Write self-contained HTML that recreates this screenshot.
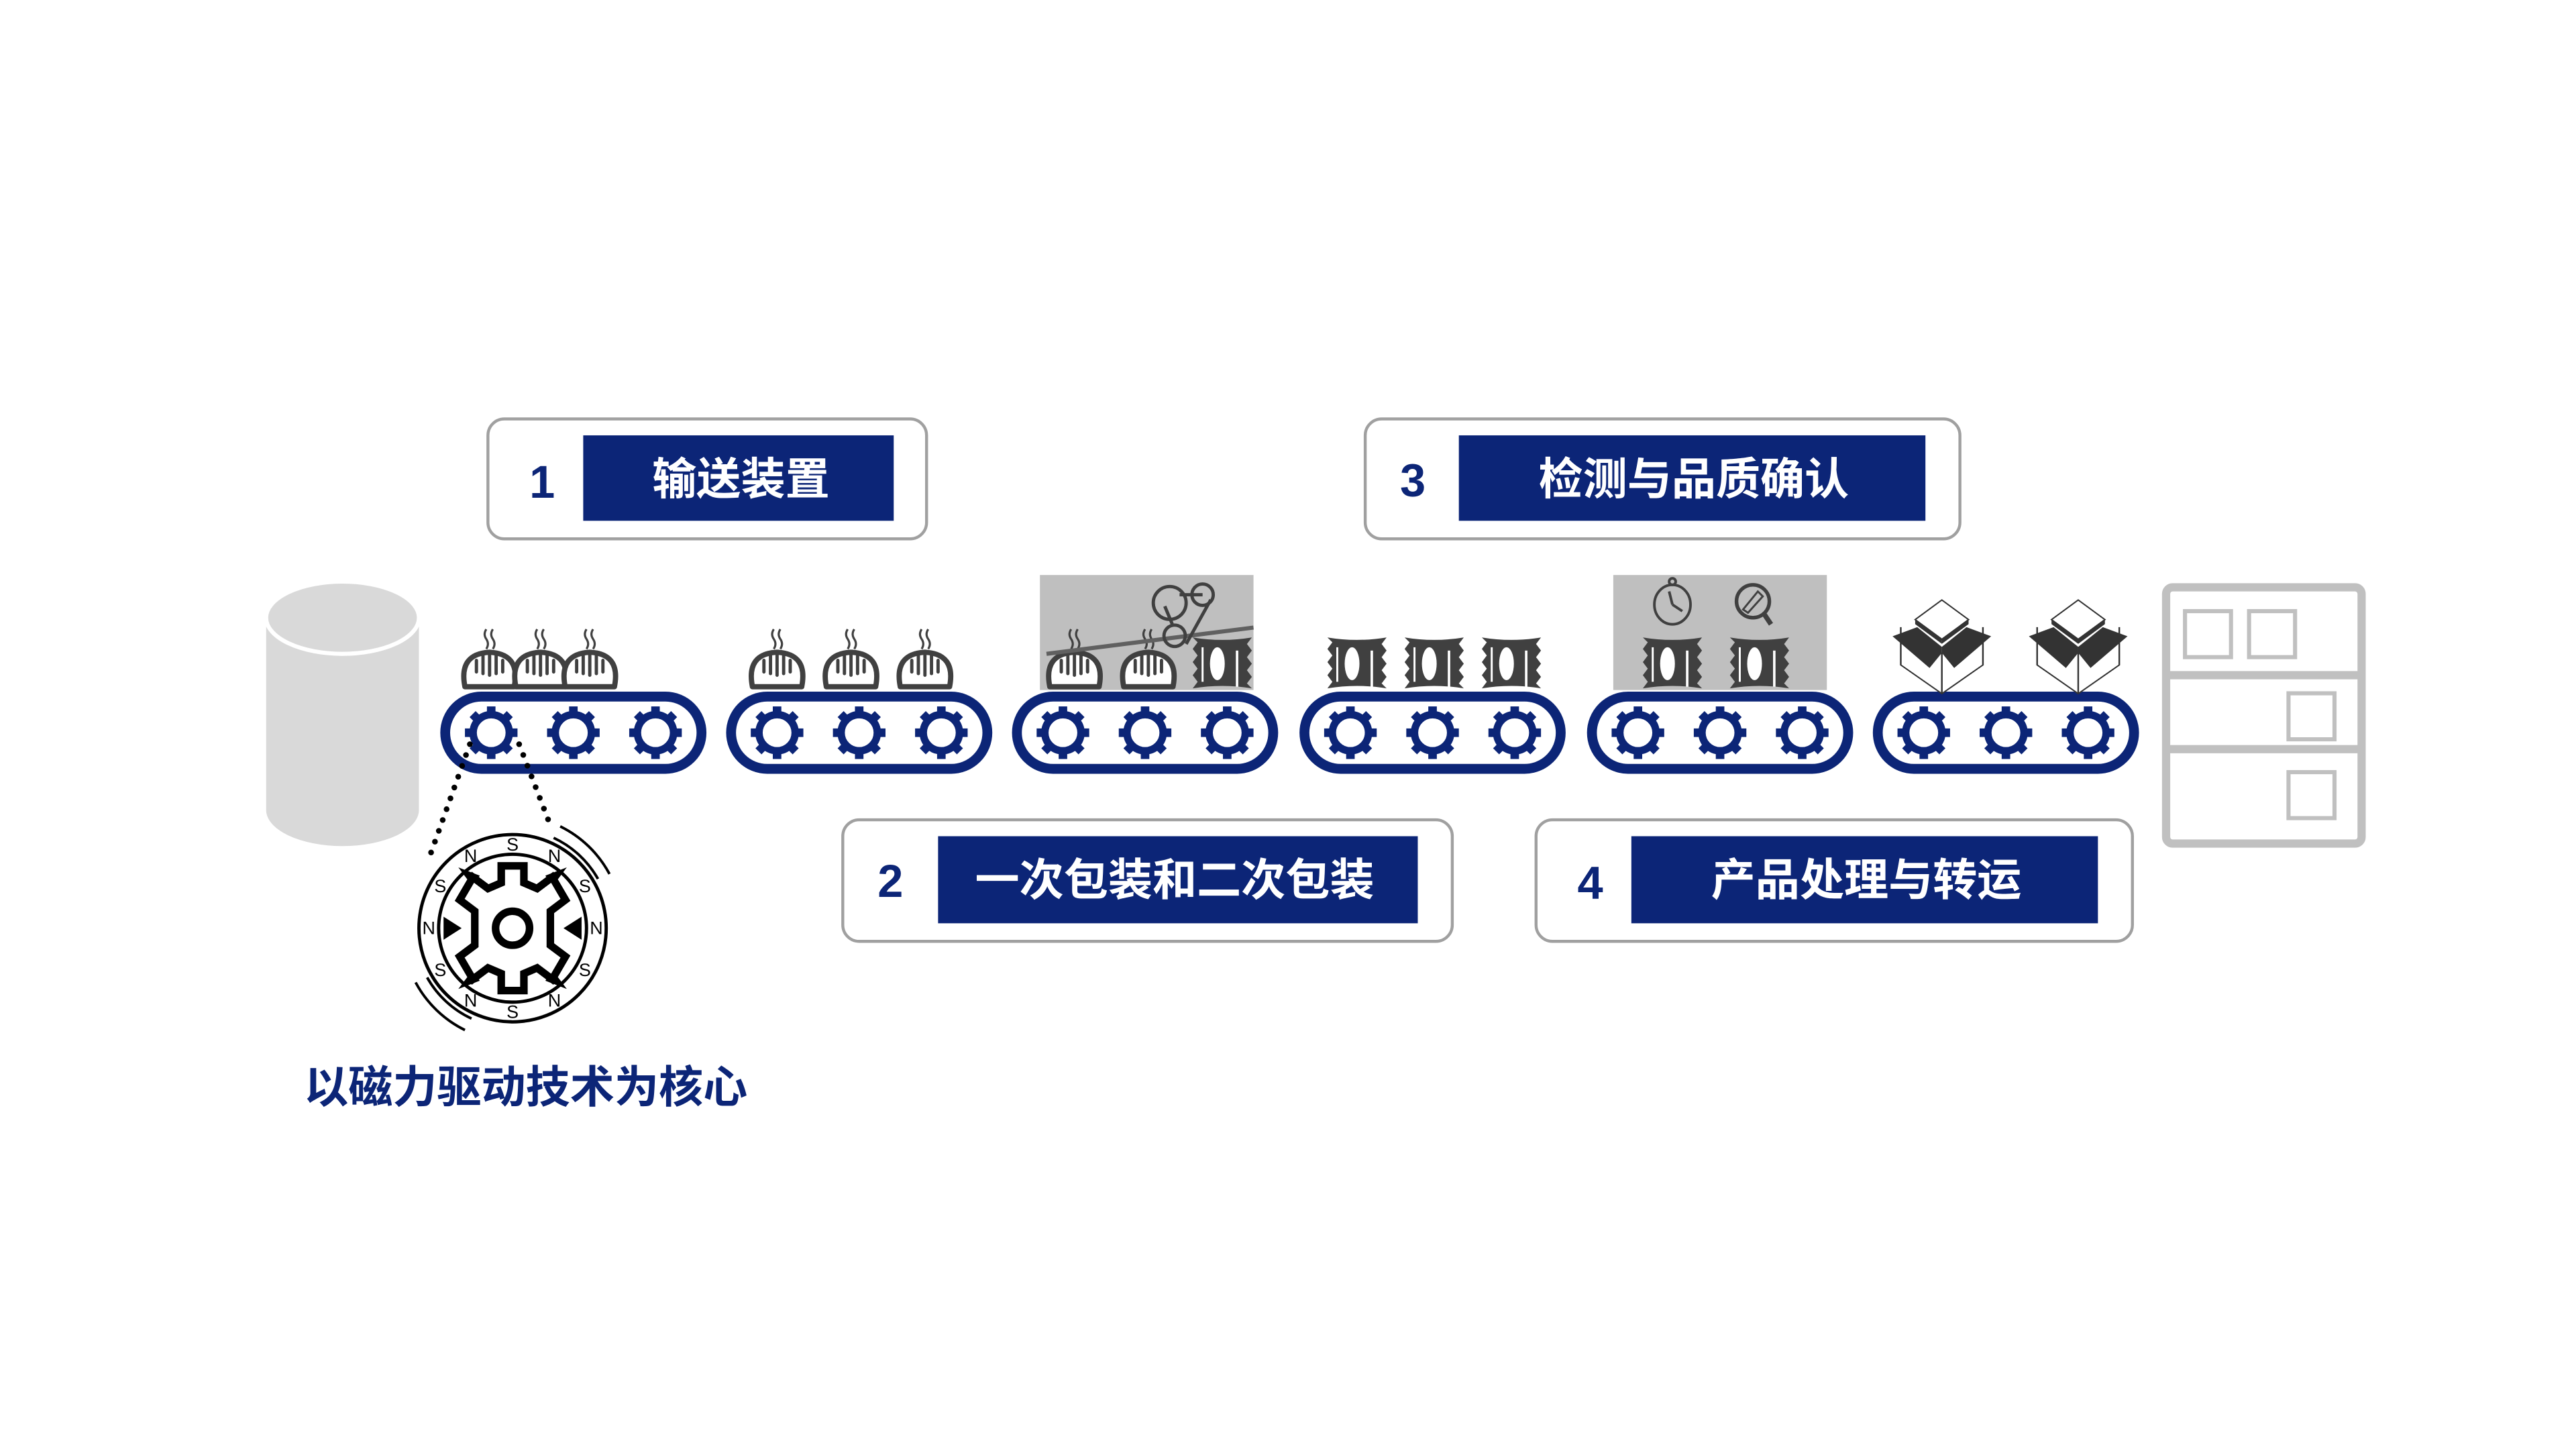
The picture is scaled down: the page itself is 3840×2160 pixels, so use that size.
<!DOCTYPE html>
<html><head><meta charset="utf-8"><style>
html,body{margin:0;padding:0;background:#fff}
svg{display:block}
</style></head><body>
<svg xmlns="http://www.w3.org/2000/svg" xmlns:xlink="http://www.w3.org/1999/xlink" width="3840" height="2160" viewBox="0 0 1568 882">
<defs>
<g id="gear">
  <circle r="11" fill="none" stroke="#0c2577" stroke-width="4.5"/>
  <g fill="#0c2577">
    <rect x="-2.6" y="-16" width="5.2" height="5"/>
    <rect x="-2.6" y="11" width="5.2" height="5"/>
    <rect x="-16" y="-2.6" width="5" height="5.2"/>
    <rect x="11" y="-2.6" width="5" height="5.2"/>
    <rect x="-2.6" y="-16" width="5.2" height="5" transform="rotate(45)"/>
    <rect x="-2.6" y="-16" width="5.2" height="5" transform="rotate(135)"/>
    <rect x="-2.6" y="-16" width="5.2" height="5" transform="rotate(225)"/>
    <rect x="-2.6" y="-16" width="5.2" height="5" transform="rotate(315)"/>
  </g>
</g>
<g id="conv">
  <rect x="3" y="3" width="156" height="44" rx="22" fill="#fff" stroke="#0c2577" stroke-width="6"/>
  <use xlink:href="#gear" x="31" y="25"/>
  <use xlink:href="#gear" x="81" y="25"/>
  <use xlink:href="#gear" x="131" y="25"/>
</g>
<g id="bun">
  <path d="M-15,0 Q-19,-20 0,-21 Q19,-20 15,0 Z" fill="#fff" stroke="#404040" stroke-width="3.2" stroke-linejoin="round"/>
  <path d="M-4,-19 L-4,-8 M0,-21 L0,-7 M4,-19 L4,-8 M-8,-16 L-8,-9 M8,-16 L8,-9" stroke="#404040" stroke-width="2" stroke-linecap="round"/>
  <path d="M-2,-35 q-2,3 0,6 q2,3 0,6 M2,-35 q-2,3 0,6 q2,3 0,6" fill="none" stroke="#404040" stroke-width="1.3"/>
</g>
<g id="bag">
  <path d="M-18,-30 Q0,-27 18,-30 L15,-26 L18,-22 L15,-18 L18,-14 L15,-10 L18,-6 L15,-2 L18,1 Q0,-2 -18,1 L-15,-3 L-18,-7 L-15,-11 L-18,-15 L-15,-19 L-18,-23 L-15,-27 Z" fill="#404040"/>
  <ellipse cx="-3" cy="-14" rx="4.5" ry="10" fill="#fff"/>
  <line x1="9" y1="-22" x2="9" y2="0" stroke="#fff" stroke-width="1.5"/>
  <line x1="-12" y1="-24" x2="-12" y2="-3" stroke="#fff" stroke-width="1.2"/>
</g>
<g id="box">
  <path d="M-20,-22 L-20,3 L0,22 L20,3 L20,-22" fill="#fff" stroke="#333" stroke-width="0.8"/>
  <line x1="0" y1="-5" x2="0" y2="22" stroke="#333" stroke-width="0.8"/>
  <path d="M0,-40 L-13,-27 L0,-14 L13,-27 Z" fill="#fff" stroke="#333" stroke-width="0.8"/>
  <path d="M-13,-27 L-13,-24 L0,-11 L0,-14 Z" fill="#333"/>
  <path d="M13,-27 L13,-24 L0,-11 L0,-14 Z" fill="#333"/>
  <path d="M-12,-22 L0,-9 L0,-5 L-6,5 L-24,-16 Z" fill="#333"/>
  <path d="M12,-22 L0,-9 L0,-5 L6,5 L24,-16 Z" fill="#333"/>
</g>
</defs>

<!-- cylinder -->
<path d="M162,376 L162,493 A46.5,22 0 0 0 255,493 L255,376 Z" fill="#d9d9d9"/>
<ellipse cx="208.5" cy="376" rx="46.5" ry="22" fill="#d9d9d9" stroke="#fff" stroke-width="2.5"/>

<!-- gray boxes -->
<rect x="633" y="350" width="130" height="70" fill="#bfbfbf"/>
<rect x="982" y="350" width="130" height="70" fill="#bfbfbf"/>

<!-- conveyors -->
<use xlink:href="#conv" x="268" y="421"/>
<use xlink:href="#conv" x="442" y="421"/>
<use xlink:href="#conv" x="616" y="421"/>
<use xlink:href="#conv" x="791" y="421"/>
<use xlink:href="#conv" x="966" y="421"/>
<use xlink:href="#conv" x="1140" y="421"/>

<!-- buns -->
<use xlink:href="#bun" x="298" y="418"/>
<use xlink:href="#bun" x="329" y="418"/>
<use xlink:href="#bun" x="359" y="418"/>
<use xlink:href="#bun" x="473" y="418"/>
<use xlink:href="#bun" x="518" y="418"/>
<use xlink:href="#bun" x="563" y="418"/>
<use xlink:href="#bun" x="654" y="418"/>
<use xlink:href="#bun" x="699" y="418"/>

<!-- packaging machine -->
<g stroke="#404040" stroke-width="2" fill="none">
  <line x1="637" y1="398" x2="763" y2="382" stroke="#606060" stroke-width="2.5"/>
  <circle cx="712" cy="367" r="10"/>
  <circle cx="732" cy="362" r="6.5"/>
  <circle cx="715" cy="387" r="6.5"/>
  <line x1="718" y1="362" x2="732" y2="362"/>
  <line x1="709" y1="369" x2="714" y2="381"/>
  <line x1="737" y1="365" x2="722" y2="392"/>
</g>
<use xlink:href="#bag" x="744" y="418"/>

<!-- bags -->
<use xlink:href="#bag" x="826" y="418"/>
<use xlink:href="#bag" x="873" y="418"/>
<use xlink:href="#bag" x="920" y="418"/>
<use xlink:href="#bag" x="1018" y="418"/>
<use xlink:href="#bag" x="1071" y="418"/>

<!-- inspection icons -->
<g stroke="#404040" fill="none" stroke-width="1.6">
  <ellipse cx="1018" cy="368" rx="11" ry="12"/>
  <circle cx="1018" cy="354" r="2"/>
  <line x1="1018" y1="368" x2="1016" y2="360"/>
  <line x1="1018" y1="368" x2="1024" y2="372"/>
  <circle cx="1067" cy="366" r="10" stroke-width="2.2"/>
  <line x1="1074" y1="374" x2="1078" y2="380" stroke-width="3"/>
  <path d="M1061,371 L1070,360 L1073,363 L1064,373 Z" stroke-width="1.2"/>
</g>

<!-- boxes -->
<g transform="translate(1182,402) scale(1.25,0.92)"><use xlink:href="#box"/></g>
<g transform="translate(1265,402) scale(1.25,0.92)"><use xlink:href="#box"/></g>

<!-- shelf -->
<g fill="none" stroke="#c0c0c0">
  <rect x="1318.5" y="357.5" width="119" height="156" rx="4" stroke-width="5"/>
  <line x1="1320" y1="411" x2="1436" y2="411" stroke-width="5"/>
  <line x1="1320" y1="456" x2="1436" y2="456" stroke-width="5"/>
  <rect x="1330" y="372" width="28" height="28" stroke-width="2.5"/>
  <rect x="1369" y="372" width="28" height="28" stroke-width="2.5"/>
  <rect x="1393" y="422" width="28" height="28" stroke-width="2.5"/>
  <rect x="1393" y="470" width="28" height="28" stroke-width="2.5"/>
</g>

<!-- dotted lines -->
<g stroke="#000" stroke-width="3.5" stroke-linecap="round" stroke-dasharray="0 7">
  <line x1="286" y1="453" x2="262" y2="520"/>
  <line x1="316" y1="453" x2="336" y2="505"/>
</g>

<!-- motor -->
<g transform="translate(312,565)">
  <circle r="57" fill="#fff" stroke="#000" stroke-width="2"/>
  <circle r="45" fill="none" stroke="#000" stroke-width="2"/>
  <path d="M25,-55 A60,60 0 0 1 52,-30 M29,-62 A68,68 0 0 1 59,-33" fill="none" stroke="#000" stroke-width="1.6"/>
  <path d="M-25,55 A60,60 0 0 1 -52,30 M-29,62 A68,68 0 0 1 -59,33" fill="none" stroke="#000" stroke-width="1.6"/>
  <g font-family="Liberation Sans, sans-serif" font-size="11" text-anchor="middle" dominant-baseline="central">
    <text x="0" y="-51">S</text><text x="0" y="51">S</text>
    <text x="-51" y="0">N</text><text x="51" y="0">N</text>
    <text x="-25.5" y="-44">N</text><text x="25.5" y="-44">N</text>
    <text x="-25.5" y="44">N</text><text x="25.5" y="44">N</text>
    <text x="-44" y="-25.5">S</text><text x="44" y="-25.5">S</text>
    <text x="-44" y="25.5">S</text><text x="44" y="25.5">S</text>
  </g>
  <g fill="#000">
    <polygon points="-33,-37 -20,-32 -24,-25"/>
    <polygon points="33,-37 20,-32 24,-25"/>
    <polygon points="-33,37 -20,32 -24,25"/>
    <polygon points="33,37 20,32 24,25"/>
    <polygon points="-42,-7 -42,7 -31,0"/>
    <polygon points="42,-7 42,7 31,0"/>
  </g>
  <g transform="scale(1.15)">
  <path d="M-6,-33 L6,-33 L6,-24 L13,-21 L21,-27 L28,-15 L20,-9 L20,9 L28,15 L21,27 L13,21 L6,24 L6,33 L-6,33 L-6,24 L-13,21 L-21,27 L-28,15 L-20,9 L-20,-9 L-28,-15 L-21,-27 L-13,-21 L-6,-24 Z" fill="#fff" stroke="#000" stroke-width="4" stroke-linejoin="miter"/>
  <circle r="9" fill="none" stroke="#000" stroke-width="4"/>
  </g>
</g>

<!-- label boxes -->
<g fill="#fff" stroke="#a0a0a0" stroke-width="1.8">
  <rect x="297" y="255" width="267" height="73" rx="10"/>
  <rect x="831" y="255" width="362" height="73" rx="10"/>
  <rect x="513" y="499" width="371" height="74" rx="10"/>
  <rect x="935" y="499" width="363" height="74" rx="10"/>
</g>
<g fill="#0c2577">
  <rect x="355" y="265" width="189" height="52"/>
  <rect x="888" y="265" width="284" height="52"/>
  <rect x="571" y="509" width="292" height="53"/>
  <rect x="993" y="509" width="284" height="53"/>
</g>
<g font-family="Liberation Sans, sans-serif" font-weight="bold" font-size="28" fill="#0c2577" text-anchor="middle">
  <text x="330" y="303">1</text>
  <text x="860" y="302">3</text>
  <text x="542" y="546">2</text>
  <text x="968" y="547">4</text>
</g>
<g font-family="Liberation Sans, 'Noto Sans CJK SC', sans-serif" font-weight="bold" font-size="27" fill="#fff" text-anchor="middle">
  <text x="451" y="301">输送装置</text>
  <text x="1031" y="301">检测与品质确认</text>
  <text x="715" y="545">一次包装和二次包装</text>
  <text x="1136" y="545">产品处理与转运</text>
</g>
<text x="320" y="671" font-family="Liberation Sans, 'Noto Sans CJK SC', sans-serif" font-weight="bold" font-size="27" fill="#0c2577" text-anchor="middle">以磁力驱动技术为核心</text>
</svg>
</body></html>
